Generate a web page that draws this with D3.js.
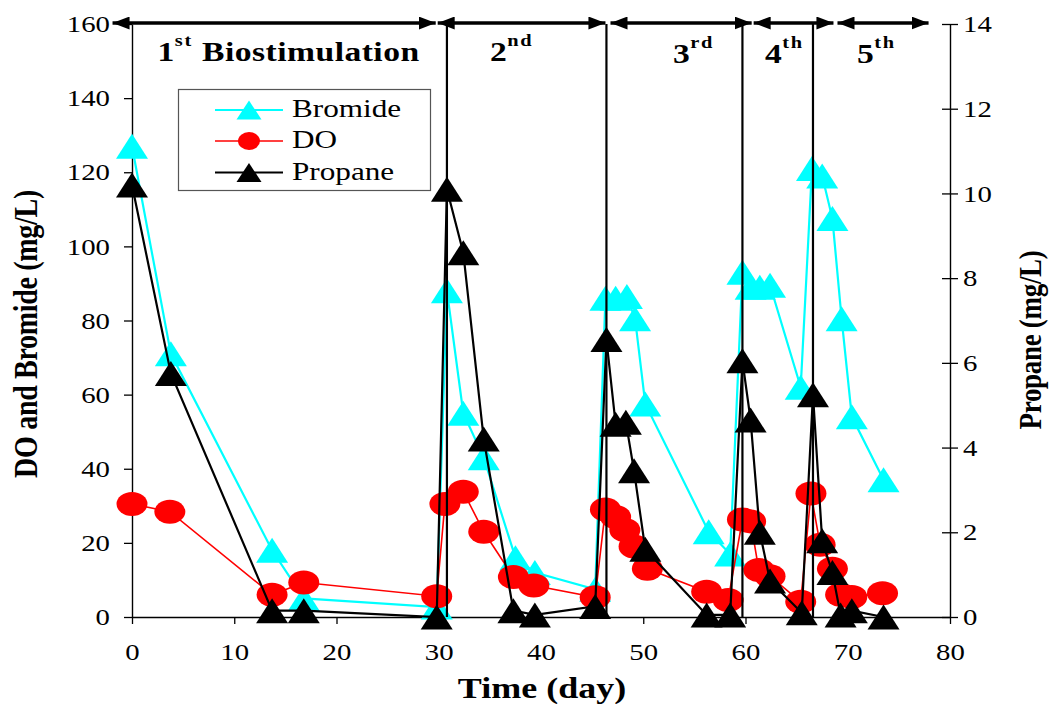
<!DOCTYPE html>
<html>
<head>
<meta charset="utf-8">
<script src="https://cdn.jsdelivr.net/npm/d3@7"></script>
<style>
  body { margin: 0; background: #fff; }
  text { font-family: "Liberation Serif", "Times New Roman", serif; fill: #000; }
</style>
</head>
<body>
<svg id="chart" width="1055" height="704"></svg>
<script>
// values (day, mg/L)
var bromideDay = [0, 3.8, 13.7, 16.8, 29.8, 30.8, 32.4, 34.4, 37.5, 39.4, 45.3, 46.3, 47.3, 48.4, 49.2, 50.2,
                  56.4, 58.5, 59.7, 60.5, 61.4, 62.4, 65.4, 66.5, 67.5, 68.5, 69.4, 70.4, 73.5];
var bromide    = [127, 71, 18, 5, 2.7, 88, 55, 43, 16, 12, 7.5, 86, 86, 86.5, 80.5, 57.5,
                  23, 17, 93, 89, 89, 89.5, 62, 121, 119, 107.5, 80.5, 54, 37];

var doDay = [0, 3.7, 13.7, 16.8, 29.8, 30.6, 32.4, 34.4, 37.3, 39.3, 45.3, 46.3, 47.3, 48.2, 49.1, 50.4,
             56.2, 58.3, 59.7, 60.5, 61.3, 62.4, 65.4, 66.4, 67.3, 68.5, 69.3, 70.4, 73.4];
var doVal = [30.5, 28.4, 6, 9.3, 5.6, 30.5, 33.8, 23, 10.8, 8.5, 5.3, 29, 27, 23.5, 19, 13,
             6.8, 4.6, 26.3, 25.8, 12.7, 11, 4.1, 33.3, 19.5, 13, 6, 5.4, 6.4];

var propaneDay = [0, 3.8, 13.7, 16.8, 29.8, 30.8, 32.4, 34.4, 37.3, 39.4, 45.3, 46.4, 47.3, 48.3, 49.1, 50.2,
                  56.2, 58.5, 59.7, 60.5, 61.4, 62.4, 65.5, 66.6, 67.5, 68.5, 69.3, 70.4, 73.5];
var propane    = [10.2, 5.75, 0.15, 0.15, 0, 10.1, 8.6, 4.2, 0.15, 0.05, 0.25, 6.55, 4.55, 4.6, 3.45, 1.6,
                  0.05, 0.05, 6.05, 4.65, 2.0, 0.85, 0.1, 5.25, 1.8, 1.05, 0.05, 0.15, 0];

// biostimulation events
var injectionDay   = [30.8, 46.4, 59.7, 66.6];
var periodStart    = [-2.0, 29.8, 46.7, 60.7, 68.9];
var periodEnd      = [29.8, 46.4, 60.7, 68.7, 78.0];
var periodNum      = ["1", "2", "3", "4", "5"];
var periodSup      = ["st", "nd", "rd", "th", "th"];
var periodText     = [" Biostimulation", "", "", "", ""];
var periodLabelDay = [2.5, 35.0, 52.9, 61.9, 70.9];

var xTicks = [0, 10, 20, 30, 40, 50, 60, 70, 80];
var leftTicks = [0, 20, 40, 60, 80, 100, 120, 140, 160];
var rightTicks = [0, 2, 4, 6, 8, 10, 12, 14];

var seriesNames = ["Bromide", "DO", "Propane"];

var SX = 1.2; // the figure is stretched sideways

var svg = d3.select("#chart");
svg.append("rect").attr("width", 1055).attr("height", 704).attr("fill", "#fff");

var x = d3.scaleLinear().domain([0, 80]).range([132, 950]);
var yL = d3.scaleLinear().domain([0, 160]).range([617, 24]);
var yR = d3.scaleLinear().domain([0, 14]).range([617, 24]);

function stretch(sel, s) {
  sel.each(function() {
    var t = d3.select(this);
    var tx = +t.attr("x") || 0, ty = +t.attr("y") || 0;
    t.attr("x", 0).attr("y", 0)
      .attr("transform", "translate(" + tx + "," + ty + ") scale(" + s + ",1)");
  });
}

function tri(w, h) {
  return "M0," + (-h / 2) + "L" + (w / 2) + "," + (h / 2) + "L" + (-w / 2) + "," + (h / 2) + "Z";
}

// axes
var gl = svg.append("g").attr("transform", "translate(132,0)")
  .call(d3.axisLeft(yL).tickValues(leftTicks).tickSize(8).tickPadding(14).tickSizeOuter(0));
var gb = svg.append("g").attr("transform", "translate(0,617)")
  .call(d3.axisBottom(x).tickValues(xTicks).tickSize(7).tickPadding(19).tickSizeOuter(0));
var gr = svg.append("g").attr("transform", "translate(950,0)")
  .call(d3.axisRight(yR).tickValues(rightTicks).tickSize(8).tickPadding(5).tickSizeOuter(0));
gr.selectAll(".tick line").attr("x1", -8);

[gl, gb, gr].forEach(function(g) {
  g.select(".domain").attr("stroke", "#000").attr("stroke-width", 1.4);
  g.selectAll(".tick line").attr("stroke", "#000").attr("stroke-width", 1.3);
  g.selectAll("text").attr("font-size", 24).attr("font-family", null).attr("fill", "#000");
  stretch(g.selectAll("text"), SX);
});

// series
function pairs(days, vals) { return days.map(function(d, i) { return [d, vals[i]]; }); }

var brData = pairs(bromideDay, bromide);
var doData = pairs(doDay, doVal);
var prData = pairs(propaneDay, propane);

var lineL = d3.line().x(function(d) { return x(d[0]); }).y(function(d) { return yL(d[1]); });
var lineR = d3.line().x(function(d) { return x(d[0]); }).y(function(d) { return yR(d[1]); });

var plot = svg.append("g");

plot.append("path").attr("d", lineL(brData)).attr("fill", "none")
  .attr("stroke", "#00ffff").attr("stroke-width", 2.2);
plot.selectAll(".br").data(brData).enter().append("path")
  .attr("d", tri(32, 25)).attr("fill", "#00ffff")
  .attr("transform", function(d) { return "translate(" + x(d[0]) + "," + yL(d[1]) + ")"; });

plot.append("path").attr("d", lineL(doData)).attr("fill", "none")
  .attr("stroke", "#ff0000").attr("stroke-width", 1.6);
plot.selectAll(".do").data(doData).enter().append("ellipse")
  .attr("cx", function(d) { return x(d[0]); }).attr("cy", function(d) { return yL(d[1]); })
  .attr("rx", 15.5).attr("ry", 12).attr("fill", "#ff0000");

plot.append("path").attr("d", lineR(prData)).attr("fill", "none")
  .attr("stroke", "#000").attr("stroke-width", 2.2);
plot.selectAll(".pr").data(prData).enter().append("path")
  .attr("d", tri(32, 25)).attr("fill", "#000")
  .attr("transform", function(d) { return "translate(" + x(d[0]) + "," + yR(d[1]) + ")"; });

// injection lines
svg.selectAll(".inj").data(injectionDay).enter().append("line")
  .attr("x1", function(d) { return x(d); }).attr("x2", function(d) { return x(d); })
  .attr("y1", yL(160)).attr("y2", yL(0))
  .attr("stroke", "#000").attr("stroke-width", 2.2);

// period arrows
var defs = svg.append("defs");
defs.append("marker").attr("id", "ah").attr("markerUnits", "userSpaceOnUse")
  .attr("markerWidth", 18).attr("markerHeight", 13).attr("refX", 17).attr("refY", 6.5)
  .attr("orient", "auto-start-reverse")
  .append("path").attr("d", "M0,0L17,6.5L0,13Z").attr("fill", "#000");

svg.selectAll(".per").data(periodStart).enter().append("line")
  .attr("x1", function(d) { return x(d) + 1; })
  .attr("x2", function(d, i) { return x(periodEnd[i]) - 1; })
  .attr("y1", yL(160) - 1).attr("y2", yL(160) - 1)
  .attr("stroke", "#000").attr("stroke-width", 3.6)
  .attr("marker-start", "url(#ah)").attr("marker-end", "url(#ah)");

var lab = svg.selectAll(".lab").data(periodNum).enter().append("text")
  .attr("x", function(d, i) { return x(periodLabelDay[i]); })
  .attr("y", function(d, i) { return i < 2 ? 61 : 63; })
  .attr("font-size", 28).attr("font-weight", "bold").attr("letter-spacing", 0.4);
lab.append("tspan").text(function(d) { return d; });
lab.append("tspan").attr("font-size", 17).attr("dy", -15).attr("letter-spacing", 1.5)
  .text(function(d, i) { return periodSup[i]; });
lab.append("tspan").attr("dy", 15).text(function(d, i) { return periodText[i]; });
stretch(lab, SX);

// legend
var leg = svg.append("g");
leg.append("rect").attr("x", 178.5).attr("y", 89.5).attr("width", 252).attr("height", 101)
  .attr("fill", "#fff").attr("stroke", "#555").attr("stroke-width", 1.2);
var legY = [110, 141, 172.5];
var legColor = ["#00ffff", "#ff0000", "#000"];
seriesNames.forEach(function(name, i) {
  leg.append("line").attr("x1", 215).attr("x2", 283).attr("y1", legY[i]).attr("y2", legY[i])
    .attr("stroke", legColor[i]).attr("stroke-width", i === 1 ? 1.6 : 2.2);
  if (i === 1) {
    leg.append("ellipse").attr("cx", 249).attr("cy", legY[i]).attr("rx", 11).attr("ry", 9)
      .attr("fill", legColor[i]);
  } else {
    leg.append("path").attr("d", tri(25, 19)).attr("fill", legColor[i])
      .attr("transform", "translate(249," + legY[i] + ")");
  }
  leg.append("text").attr("x", 292).attr("y", legY[i] + 7)
    .attr("font-size", 26).text(name);
});
stretch(leg.selectAll("text"), SX);

// axis titles
svg.append("text").attr("x", 542).attr("y", 698).attr("text-anchor", "middle")
  .attr("font-size", 30).attr("font-weight", "bold").text("Time (day)")
  .call(stretch, SX);

svg.append("g").attr("transform", "translate(37,334) scale(" + SX + ",1) rotate(-90)")
  .append("text").attr("text-anchor", "middle").attr("font-size", 28)
  .attr("font-weight", "bold").attr("letter-spacing", -0.3).text("DO and Bromide (mg/L)");

svg.append("g").attr("transform", "translate(1041,340) scale(" + SX + ",1) rotate(-90)")
  .append("text").attr("text-anchor", "middle").attr("font-size", 27)
  .attr("font-weight", "bold").attr("letter-spacing", -0.3).text("Propane (mg/L)");
</script>
</body>
</html>
